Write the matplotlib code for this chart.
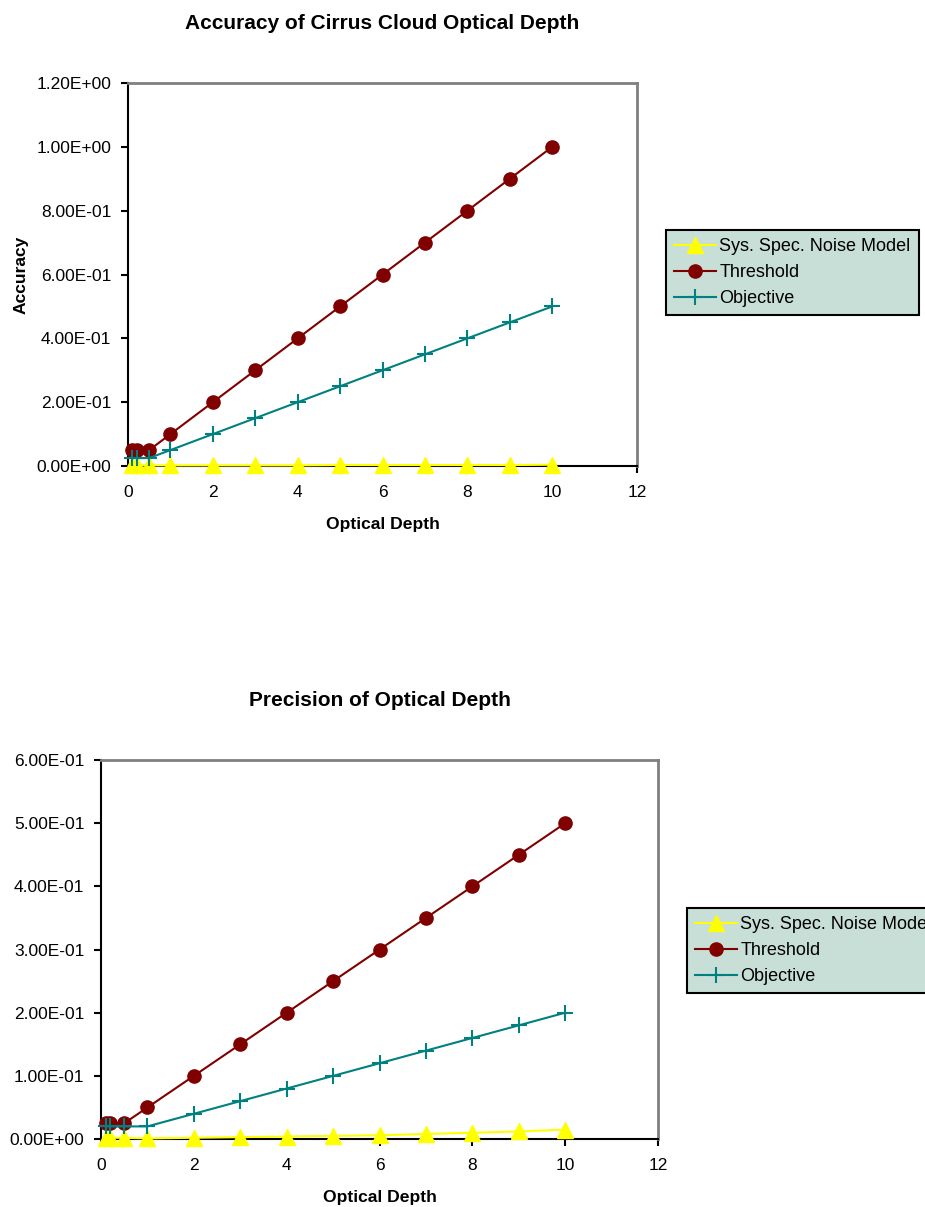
import matplotlib.pyplot as plt
from matplotlib.ticker import FuncFormatter

plt.rcParams['font.family'] = ['Liberation Sans', 'DejaVu Sans']

# optical depth values (same for both charts)
depth = [0.1, 0.2, 0.5, 1, 2, 3, 4, 5, 6, 7, 8, 9, 10]

# accuracy chart
acc_noise = [0.002, 0.002, 0.002, 0.002, 0.002, 0.002, 0.002, 0.003, 0.003, 0.003, 0.003, 0.003, 0.004]
acc_threshold = [0.05, 0.05, 0.05, 0.1, 0.2, 0.3, 0.4, 0.5, 0.6, 0.7, 0.8, 0.9, 1.0]
acc_objective = [0.025, 0.025, 0.025, 0.05, 0.1, 0.15, 0.2, 0.25, 0.3, 0.35, 0.4, 0.45, 0.5]

# precision chart
prec_noise = [0.001, 0.002, 0.002, 0.001, 0.002, 0.003, 0.004, 0.005, 0.006, 0.008, 0.010, 0.012, 0.015]
prec_threshold = [0.025, 0.025, 0.025, 0.05, 0.1, 0.15, 0.2, 0.25, 0.3, 0.35, 0.4, 0.45, 0.5]
prec_objective = [0.02, 0.02, 0.02, 0.02, 0.04, 0.06, 0.08, 0.1, 0.12, 0.14, 0.16, 0.18, 0.2]

labels = ['Sys. Spec. Noise Model', 'Threshold', 'Objective']

fig = plt.figure(figsize=(9.25, 12.07), dpi=100)


def draw(ax, noise, thr, obj, ymax, ystep, title, leg_xy):
    ax.plot(depth, noise, color='#FFFF00', marker='^', markersize=11, lw=1.5, clip_on=False, zorder=3)
    ax.plot(depth, thr, color='#800000', marker='o', markersize=9.5, lw=1.5, clip_on=False, zorder=3)
    ax.plot(depth, obj, color='#008080', marker='+', markersize=11, mew=1.5, lw=1.5, clip_on=False, zorder=3)
    ax.set_xlim(0, 12)
    ax.set_ylim(0, ymax)
    ax.set_xticks(range(0, 13, 2))
    n = int(round(ymax / ystep))
    ax.set_yticks([i * ystep for i in range(n + 1)])
    ax.yaxis.set_major_formatter(FuncFormatter(lambda v, p: '%.2E' % v))
    ax.tick_params(direction='out', length=5, width=1.5, labelsize=12.5, pad=7, colors='black')
    ax.tick_params(axis='x', pad=9)
    for s in ['top', 'right']:
        ax.spines[s].set_color('#808080')
        ax.spines[s].set_linewidth(2)
    for s in ['left', 'bottom']:
        ax.spines[s].set_color('black')
        ax.spines[s].set_linewidth(1.5)
    ax.set_xlabel('Optical Depth', fontsize=12.6, fontweight='bold', labelpad=12)
    ax.set_title(title, fontsize=15, fontweight='bold', pad=39)
    leg = ax.legend(labels, loc='upper left', bbox_to_anchor=leg_xy, bbox_transform=fig.transFigure,
                    borderaxespad=0, fontsize=13, handlelength=2.3, handletextpad=0.2,
                    labelspacing=0.5, borderpad=0.45, fancybox=False, framealpha=1,
                    facecolor='#C8DFD7', edgecolor='black')
    leg.get_frame().set_linewidth(1.5)


ax1 = fig.add_axes([0.1384, 0.6139, 0.5503, 0.3173])
draw(ax1, acc_noise, acc_threshold, acc_objective, 1.2, 0.2,
     'Accuracy of Cirrus Cloud Optical Depth', (0.72, 0.8094))
ax1.set_ylabel('Accuracy', fontsize=12.6, fontweight='bold', labelpad=6)

ax2 = fig.add_axes([0.1092, 0.0563, 0.6022, 0.314])
draw(ax2, prec_noise, prec_threshold, prec_objective, 0.6, 0.1,
     'Precision of Optical Depth', (0.7427, 0.2477))

fig.savefig('out.png', dpi=100)
